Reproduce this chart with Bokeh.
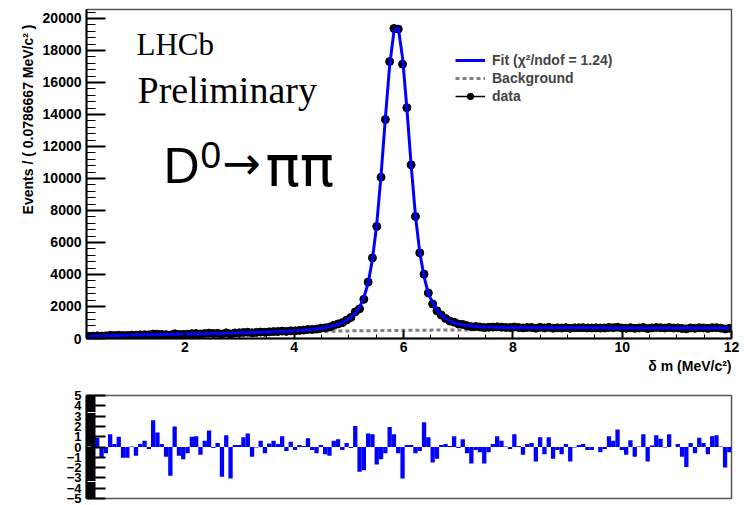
import numpy as np
from bokeh.plotting import figure
from bokeh.models import Range1d, SingleIntervalTicker, Label, Legend, LegendItem, ColumnDataSource, Title
from bokeh.layouts import column
from bokeh.embed import file_html
from bokeh.resources import INLINE

# ---------------- data ----------------
X_MIN, X_MAX, N_BINS = 0.2, 12.0, 150

data_counts = [
    132, 147, 166, 151, 164, 197, 191, 208, 185, 191,
    213, 205, 228, 238, 231, 280, 267, 255, 240, 215,
    298, 256, 255, 270, 303, 309, 284, 312, 336, 312,
    327, 274, 353, 282, 349, 356, 377, 391, 356, 381,
    402, 387, 415, 430, 435, 463, 445, 479, 477, 506,
    524, 565, 565, 588, 645, 666, 715, 822, 912, 991,
    1154, 1316, 1661, 1854, 2446, 3526, 5038, 7006, 10079, 13680,
    17305, 19373, 19336, 17146, 14424, 10851, 7627, 5351, 4019, 2850,
    2159, 1731, 1468, 1251, 1093, 1018, 907, 877, 795, 735,
    748, 724, 681, 700, 713, 727, 710, 691, 682, 718,
    686, 661, 688, 689, 642, 702, 658, 700, 644, 665,
    654, 679, 634, 668, 673, 676, 659, 658, 665, 652,
    659, 690, 677, 706, 653, 641, 677, 635, 659, 690,
    621, 660, 685, 675, 654, 686, 653, 661, 628, 602,
    661, 635, 673, 659, 631, 675, 677, 648, 596, 633,
]

fit_counts = [
    135, 145, 155, 164, 172, 180, 187, 194, 200, 206,
    212, 218, 224, 229, 234, 240, 245, 250, 255, 260,
    265, 270, 275, 280, 286, 291, 297, 302, 308, 314,
    320, 326, 332, 338, 345, 352, 359, 366, 374, 382,
    390, 399, 408, 418, 429, 441, 454, 468, 484, 502,
    522, 545, 572, 603, 640, 684, 738, 805, 890, 1000,
    1140, 1320, 1580, 1960, 2560, 3450, 4950, 7150, 10200, 13750,
    17050, 19200, 19420, 17550, 14400, 10830, 7680, 5380, 3870, 2800,
    2230, 1780, 1460, 1240, 1090, 985, 910, 855, 812, 780,
    756, 738, 724, 713, 705, 699, 694, 690, 687, 685,
    683, 681, 680, 679, 678, 677, 676, 675, 674, 673,
    672, 671, 670, 669, 668, 668, 667, 666, 665, 665,
    664, 663, 662, 662, 661, 660, 660, 659, 658, 658,
    657, 656, 656, 655, 655, 654, 653, 653, 652, 652,
    651, 650, 650, 649, 649, 648, 648, 647, 647, 646,
]

pulls = [
    -0.25, 0.2, 0.9, -1.0, -0.6, 1.25, 0.3, 1.0, -1.05, -1.05,
    0.05, -0.85, 0.3, 0.6, -0.2, 2.6, 1.4, 0.3, -0.95, -2.8,
    2.0, -0.85, -1.2, -0.6, 1.0, 1.05, -0.75, 0.6, 1.6, -0.1,
    0.4, -2.9, 1.15, -3.05, 0.2, 0.2, 0.95, 1.3, -0.95, -0.05,
    0.6, -0.6, 0.35, 0.6, 0.3, 1.05, -0.4, 0.5, -0.3, 0.2,
    0.1, 0.85, -0.3, -0.6, 0.2, -0.7, -0.85, 0.6, 0.75, -0.3,
    0.4, -0.1, 2.05, -2.4, -2.25, 1.3, 1.25, -1.7, -1.2, -0.6,
    1.95, 1.25, -0.6, -3.05, 0.2, 0.2, -0.6, -0.4, 2.4, 0.95,
    -1.5, -1.15, 0.2, 0.3, 0.1, 1.05, -0.1, 0.75, -0.6, -1.6,
    -0.3, -0.5, -1.6, -0.5, 0.3, 1.05, 0.6, 0.05, -0.2, 1.25,
    0.1, -0.75, 0.3, 0.4, -1.4, 0.95, -0.7, 0.95, -1.15, -0.3,
    -0.7, 0.3, -1.4, -0.05, 0.2, 0.3, -0.3, -0.3, 0.0, -0.5,
    -0.2, 1.05, 0.6, 1.7, -0.3, -0.75, 0.65, -0.95, 0.05, 1.25,
    -1.4, 0.15, 1.15, 0.8, -0.05, 1.25, 0.0, 0.3, -0.95, -1.95,
    0.4, -0.6, 0.9, 0.4, -0.7, 1.05, 1.15, 0.05, -2.0, -0.5,
]

bkg_x = [0.2, 0.5, 1.0, 1.5, 2.0, 2.5, 3.0, 3.5, 4.0, 4.5, 5.0, 5.5, 6.0, 7.0, 8.0, 9.0, 10.0, 11.0, 12.0]
bkg_y = [55, 100, 150, 190, 225, 260, 295, 335, 385, 440, 475, 495, 510, 535, 555, 570, 580, 588, 595]

FIT_LABEL = "Fit (\u03c7\u00b2/ndof = 1.24)"
BKG_LABEL = "Background"
DATA_LABEL = "data"
Y_TITLE = "Events / ( 0.0786667 MeV/c\u00b2 )"
X_TITLE = "\u03b4 m (MeV/c\u00b2)"

# ---------------- derived ----------------
bw = (X_MAX - X_MIN) / N_BINS
centers = X_MIN + bw * (np.arange(N_BINS) + 0.5)
d = np.array(data_counts, dtype=float)
err = np.sqrt(d)

src = ColumnDataSource(dict(
    x=centers, y=d, xl=centers - bw / 2, xr=centers + bw / 2,
    yl=d - err, yh=d + err, fit=np.array(fit_counts, dtype=float),
    pull=np.array(pulls, dtype=float)))

BLUE = "#0000ff"
FONT = "Liberation Sans"

# ---------------- main plot ----------------
p1 = figure(width=747, height=380, x_range=Range1d(X_MIN, X_MAX), y_range=Range1d(0, 20560),
            output_backend="svg", toolbar_location=None,
            min_border_left=86, min_border_right=16, min_border_top=9, min_border_bottom=42)
p1.grid.visible = False
p1.outline_line_color = "#555555"
p1.outline_line_width = 1.5

def style_axis(ax, tin, mtin, size, standoff):
    ax.axis_line_width = 2
    ax.axis_line_color = "black"
    ax.major_tick_in = tin
    ax.major_tick_out = 0
    ax.minor_tick_in = mtin
    ax.minor_tick_out = 0
    ax.major_tick_line_width = 2
    ax.minor_tick_line_width = 1
    ax.major_label_text_font = FONT
    ax.major_label_text_font_style = "bold"
    ax.major_label_text_font_size = size
    ax.major_label_text_color = "black"
    ax.major_label_standoff = standoff

p1.xaxis.ticker = SingleIntervalTicker(interval=2, num_minor_ticks=4)
p1.yaxis.ticker = SingleIntervalTicker(interval=2000, num_minor_ticks=5)
style_axis(p1.xaxis[0], 8, 4, "14px", 3)
style_axis(p1.yaxis[0], 19, 9, "14px", 5)

bkg_r = p1.line(bkg_x, bkg_y, line_color="#808080", line_width=3, line_dash="4 3")
xerr_r = p1.segment(x0="xl", x1="xr", y0="y", y1="y", source=src, line_color="black", line_width=1.5)
p1.segment(x0="x", x1="x", y0="yl", y1="yh", source=src, line_color="black", line_width=1.5)
dot_r = p1.scatter("x", "y", source=src, size=8, marker="circle", fill_color="black", line_color="black")
fit_r = p1.line("x", "fit", source=src, line_color=BLUE, line_width=3)

legend = Legend(items=[
    LegendItem(label=FIT_LABEL, renderers=[fit_r]),
    LegendItem(label=BKG_LABEL, renderers=[bkg_r]),
    LegendItem(label=DATA_LABEL, renderers=[xerr_r, dot_r]),
], location=(369, 234), margin=0, padding=0, spacing=2,
    label_height=16, glyph_height=16, glyph_width=30, label_standoff=7,
    label_text_font=FONT, label_text_font_style="bold", label_text_font_size="14px",
    border_line_color=None, background_fill_alpha=0)
p1.add_layout(legend)

def lab(p, x, y, text, font, size, style="normal"):
    p.add_layout(Label(x=x, y=y, x_units="screen", y_units="screen", text=text,
                       text_font=font, text_font_size=size, text_font_style=style,
                       text_align="left", text_baseline="alphabetic", text_color="black"))

lab(p1, 50, 294, "LHCb", "Liberation Serif", "31px")
lab(p1, 51, 249, "Preliminary", "Liberation Serif", "38px")
lab(p1, 77, 173, "D", FONT, "50px")
lab(p1, 114, 184, "0", FONT, "37px")
lab(p1, 136, 176, "\u2192", "DejaVu Sans", "46px")
lab(p1, 179, 173, "\u03c0\u03c0", "DejaVu Sans", "57px")

p1.add_layout(Title(text=X_TITLE, align="right", text_font=FONT, text_font_style="bold",
                    text_font_size="14px", text_color="black", standoff=2), "below")
p1.add_layout(Title(text=Y_TITLE, align="right", text_font=FONT, text_font_style="bold",
                    text_font_size="14px", text_color="black", offset=15, standoff=7), "left")

# ---------------- pull plot ----------------
p2 = figure(width=747, height=125, x_range=p1.x_range, y_range=Range1d(-5, 5),
            output_backend="svg", toolbar_location=None,
            min_border_left=86, min_border_right=16, min_border_top=15, min_border_bottom=7)
p2.grid.visible = False
p2.outline_line_color = "#555555"
p2.outline_line_width = 1.5
p2.xaxis.visible = False
p2.yaxis.ticker = SingleIntervalTicker(interval=1, num_minor_ticks=10)
style_axis(p2.yaxis[0], 19, 9, "13px", 5)
p2.vbar(x="x", width=bw, bottom=0, top="pull", source=src, fill_color=BLUE, line_color=None)

layout = column(p1, p2, spacing=0)
open("out.html", "w").write(file_html(layout, INLINE))
